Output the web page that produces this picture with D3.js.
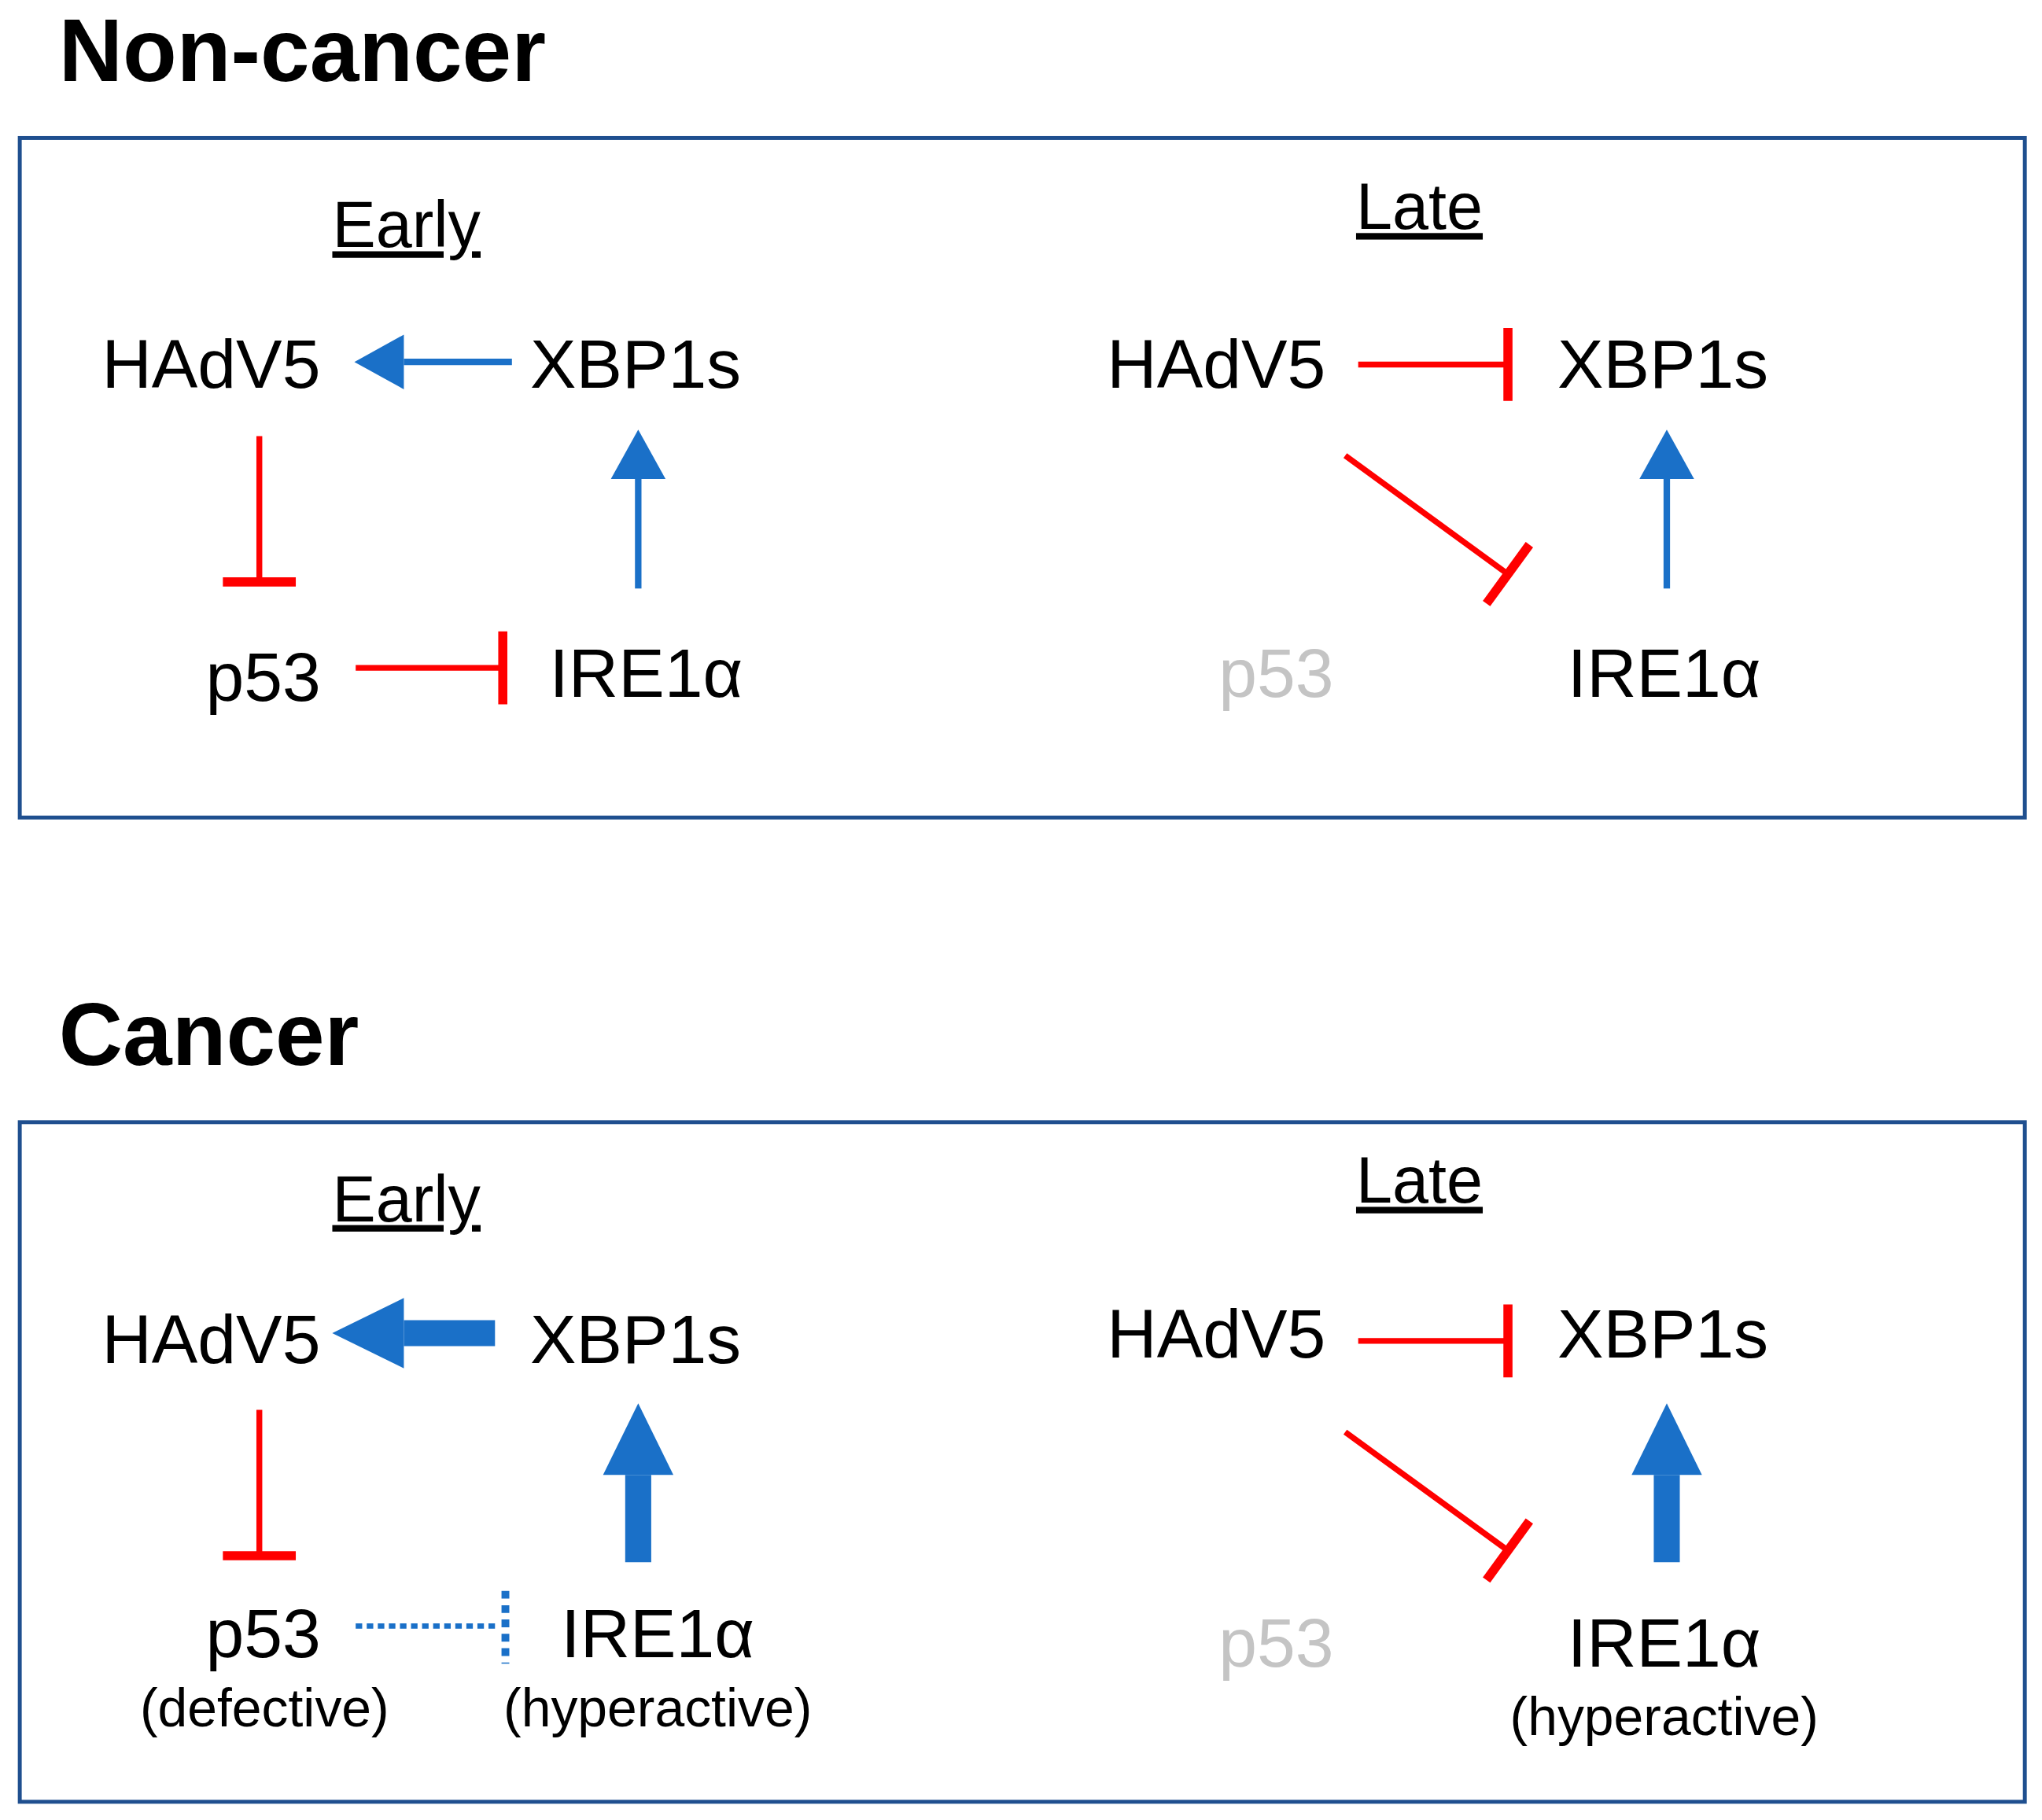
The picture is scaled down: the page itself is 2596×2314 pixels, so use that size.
<!DOCTYPE html>
<html>
<head>
<meta charset="utf-8">
<script src="https://cdn.jsdelivr.net/npm/d3@7"></script>
<style>
  html, body { margin: 0; padding: 0; background: #fff; }
  svg { display: block; }
</style>
</head>
<body>
<svg></svg>
<script>
// panels and stages
const panels = ["Non-cancer", "Cancer"];
const stages = ["Early", "Late"];
// node labels per stage: [HAdV5, XBP1s, p53, IRE1α]
const nodeNames = ["HAdV5", "XBP1s", "p53", "IRE1α"];
const subLabels = {
  "Cancer|Early": {"p53": "(defective)", "IRE1α": "(hyperactive)"},
  "Cancer|Late": {"IRE1α": "(hyperactive)"}
};
const greyNodes = {"Late": ["p53"]};
// edges: type activate / inhibit / weak; thick = strong activation
const edges = {
  "Non-cancer|Early": [
    {source: "XBP1s", target: "HAdV5", type: "act"},
    {source: "HAdV5", target: "p53", type: "inh"},
    {source: "IRE1α", target: "XBP1s", type: "act"},
    {source: "p53", target: "IRE1α", type: "inh"}
  ],
  "Non-cancer|Late": [
    {source: "HAdV5", target: "XBP1s", type: "inh"},
    {source: "HAdV5", target: "IRE1α", type: "inh"},
    {source: "IRE1α", target: "XBP1s", type: "act"}
  ],
  "Cancer|Early": [
    {source: "XBP1s", target: "HAdV5", type: "thick"},
    {source: "HAdV5", target: "p53", type: "inh"},
    {source: "IRE1α", target: "XBP1s", type: "thick"},
    {source: "p53", target: "IRE1α", type: "weak"}
  ],
  "Cancer|Late": [
    {source: "HAdV5", target: "XBP1s", type: "inh"},
    {source: "HAdV5", target: "IRE1α", type: "inh"},
    {source: "IRE1α", target: "XBP1s", type: "thick"}
  ]
};

const W = 1568, H = 1398;
const BLUE = "#1a70c8", RED = "#ff0000", BOX = "#1f4f8f";
const FONT = "'Liberation Sans', Arial, sans-serif";

const svg = d3.select("svg")
  .attr("width", 2596).attr("height", 2314)
  .attr("viewBox", [0, 0, W, H]);

const panelY = d3.scaleOrdinal(panels, [0, 756]);

// layout of nodes within a stage (label centre x, baseline y)
const layout = {
  "Early": {"HAdV5": [162, 298], "XBP1s": [488, 298], "p53": [202, 538], "IRE1α": [496, 535]},
  "Late": {"HAdV5": [934, 298], "XBP1s": [1277, 298], "p53": [980, 535], "IRE1α": [1278, 535]}
};
// edge geometry per stage: [x1,y1,x2,y2]
const edgeGeom = {
  "Early|XBP1s>HAdV5": [393, 278, 272, 278],
  "Early|HAdV5>p53": [199, 335, 199, 447],
  "Early|IRE1α>XBP1s": [490, 452, 490, 330],
  "Early|p53>IRE1α": [273, 513, 386, 513],
  "Late|HAdV5>XBP1s": [1043, 280, 1158, 280],
  "Late|HAdV5>IRE1α": [1033, 350, 1158, 441],
  "Late|IRE1α>XBP1s": [1280, 452, 1280, 330]
};

panels.forEach(panel => {
  const g = svg.append("g").attr("transform", `translate(0,${panelY(panel)})`);
  g.append("text").attr("x", 45).attr("y", 62)
    .attr("font-family", FONT).attr("font-weight", "bold").attr("font-size", 68)
    .text(panel);
  g.append("rect").attr("x", 15).attr("y", 106).attr("width", 1540).attr("height", 522)
    .attr("fill", "none").attr("stroke", BOX).attr("stroke-width", 3);

  stages.forEach(stage => {
    const key = panel + "|" + stage;
    const dyStage = panel === "Cancer" && stage === "Late" ? 1 : 0;
    const hx = stage === "Early" ? 312 : 1090;
    const hy = stage === "Early" ? 190 : 176;
    const ht = g.append("text").attr("x", hx).attr("y", hy + (panel === "Cancer" ? -8 : 0))
      .attr("text-anchor", "middle").attr("font-family", FONT).attr("font-size", 50)
      .attr("text-decoration", "underline").text(stage);

    nodeNames.forEach(n => {
      const [x, y] = layout[stage][n];
      let yy = y;
      if (panel === "Cancer") {
        if (stage === "Early") yy = y + (n === "p53" || n === "IRE1α" ? 737 - 756 + (n === "IRE1α" ? 1 : -2) : 749 - 756);
        else yy = y + (n === "p53" || n === "IRE1α" ? 745 - 756 : 745 - 756);
      }
      const xx = panel === "Cancer" && stage === "Early" && n === "IRE1α" ? x + 9 : x;
      const grey = (greyNodes[stage] || []).includes(n);
      g.append("text").attr("x", xx).attr("y", yy).attr("text-anchor", "middle")
        .attr("font-family", FONT).attr("font-size", 53)
        .attr("fill", grey ? "#c4c4c4" : "#000").text(n);
      const sub = (subLabels[key] || {})[n];
      if (sub) {
        g.append("text").attr("x", xx + (n === "p53" ? 1 : 0)).attr("y", yy + 53)
          .attr("text-anchor", "middle").attr("font-family", FONT).attr("font-size", 41)
          .text(sub);
      }
    });

    const line = d3.line();
    edges[key].forEach(e => {
      let [x1, y1, x2, y2] = edgeGeom[stage + "|" + e.source + ">" + e.target];
      if (panel === "Cancer") {
        const off = stage === "Early" ? (e.source === "p53" ? -20 : -8) : -6;
        y1 += off; y2 += off;
        if (stage === "Early" && e.type === "thick" && e.target === "HAdV5") { x1 = 380; x2 = 255; y1 = y2 = 1024 - 756; }
        if (e.type === "thick" && e.target === "XBP1s") { y1 = 1200 - 756; y2 = 1078 - 756; }
      }
      const ang = Math.atan2(y2 - y1, x2 - x1);
      const ux = Math.cos(ang), uy = Math.sin(ang), px = -uy, py = ux;
      if (e.type === "act" || e.type === "thick") {
        const thick = e.type === "thick";
        const hl = thick ? 55 : 38, hw = thick ? 27 : 21, sw = thick ? 20 : 5;
        const bx = x2 - ux * hl, by = y2 - uy * hl;
        g.append("path").attr("d", line([[x1, y1], [bx, by]]))
          .attr("stroke", BLUE).attr("stroke-width", sw).attr("fill", "none");
        g.append("path").attr("d", line([[x2, y2], [bx + px * hw, by + py * hw], [bx - px * hw, by - py * hw]]) + "Z")
          .attr("fill", BLUE);
      } else if (e.type === "inh") {
        g.append("path").attr("d", line([[x1, y1], [x2, y2]]))
          .attr("stroke", RED).attr("stroke-width", 4.5).attr("fill", "none");
        const bw = 28;
        g.append("path").attr("d", line([[x2 + px * bw, y2 + py * bw], [x2 - px * bw, y2 - py * bw]]))
          .attr("stroke", RED).attr("stroke-width", 7).attr("fill", "none");
      } else {
        g.append("path").attr("d", line([[x1, y1], [x2 - 4, y2]]))
          .attr("stroke", BLUE).attr("stroke-width", 4).attr("stroke-dasharray", "5,3.5").attr("fill", "none");
        g.append("path").attr("d", line([[x2 + 2, y2 - 27], [x2 + 2, y2 + 29]]))
          .attr("stroke", BLUE).attr("stroke-width", 6).attr("stroke-dasharray", "6,5").attr("fill", "none");
      }
    });
  });
});
</script>
</body>
</html>
